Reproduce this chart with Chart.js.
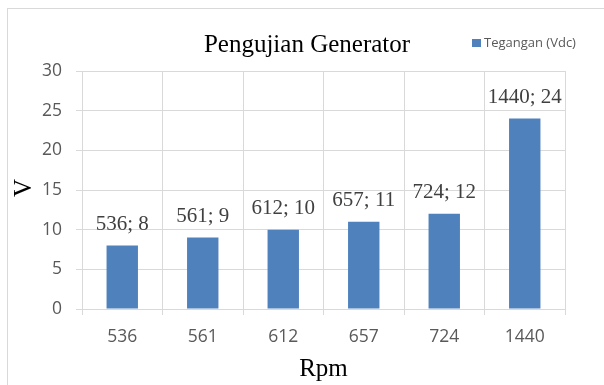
<html lang="en">
<head>
<meta charset="UTF-8">
<title>Pengujian Generator</title>
<style>
  body { margin: 0; background: #fff; }
  #wrap { position: relative; width: 604px; height: 385px; overflow: hidden; }
  #frame { position: absolute; left: 7px; top: 8px; width: 700px; height: 500px; border: 1px solid #d9d9d9; }
  canvas { position: absolute; left: 0; top: 0; }
</style>
</head>
<body>
<div id="wrap">
  <div id="frame"></div>
  <canvas id="chart" width="604" height="385"></canvas>
</div>
<script src="https://cdn.jsdelivr.net/npm/chart.js@4.4.0/dist/chart.umd.min.js"></script>
<script>
const rpm = ['536', '561', '612', '657', '724', '1440'];
const tegangan = [8, 9, 10, 11, 12, 24];
const yTicks = [0, 5, 10, 15, 20, 25, 30];
const seriesName = 'Tegangan (Vdc)';
const chartTitle = 'Pengujian Generator';

const barBlue = '#4f81bd';
const gridGrey = '#d9d9d9';
const sans = "'Open Sans', sans-serif";
const serif = "'Liberation Serif', 'Times New Roman', serif";

// labels above bars, title, legend and axis titles
const extras = {
  id: 'extras',
  afterDatasetsDraw(chart) {
    const ctx = chart.ctx;
    const area = chart.chartArea;
    ctx.save();
    // data labels "x; y"
    ctx.font = '21px ' + serif;
    ctx.fillStyle = '#404040';
    ctx.textAlign = 'center';
    ctx.textBaseline = 'alphabetic';
    chart.getDatasetMeta(0).data.forEach((bar, i) => {
      ctx.fillText(rpm[i] + '; ' + tegangan[i], bar.x, bar.y - 16);
    });
    // title
    ctx.font = '25px ' + serif;
    ctx.fillStyle = '#000';
    ctx.fillText(chartTitle, 307, 52);
    // legend
    ctx.fillStyle = barBlue;
    ctx.fillRect(472, 39, 9, 8);
    ctx.font = '13px ' + sans;
    ctx.fillStyle = '#595959';
    ctx.textAlign = 'left';
    ctx.fillText(seriesName, 484, 47);
    // axis titles
    ctx.font = '25px ' + serif;
    ctx.fillStyle = '#000';
    ctx.textAlign = 'center';
    ctx.fillText('Rpm', (area.left + area.right) / 2, 376);
    ctx.translate(31, 188);
    ctx.rotate(-Math.PI / 2);
    ctx.fillText('V', 0, 0);
    ctx.restore();
  }
};

new Chart(document.getElementById('chart'), {
  type: 'bar',
  data: {
    labels: rpm,
    datasets: [{
      label: seriesName,
      data: tegangan,
      backgroundColor: barBlue,
      categoryPercentage: 1,
      barPercentage: 0.39
    }]
  },
  options: {
    responsive: false,
    animation: false,
    layout: { padding: { top: 71, right: 39, left: 0, bottom: 0 } },
    plugins: {
      legend: { display: false },
      title: { display: false },
      tooltip: { enabled: false }
    },
    scales: {
      x: {
        afterFit(scale) { scale.height = 76; },
        grid: { color: gridGrey, offset: true, tickLength: 6 },
        border: { color: gridGrey },
        ticks: { color: '#595959', font: { family: sans, size: 17.5 }, padding: 12 }
      },
      y: {
        min: 0,
        max: 30,
        afterFit(scale) { scale.width = 82; },
        afterBuildTicks(scale) { scale.ticks = yTicks.map(v => ({ value: v })); },
        grid: { color: gridGrey, tickLength: 6 },
        border: { color: gridGrey },
        ticks: { color: '#595959', font: { family: sans, size: 17.5 }, padding: 14 }
      }
    }
  },
  plugins: [extras]
});
</script>
</body>
</html>
